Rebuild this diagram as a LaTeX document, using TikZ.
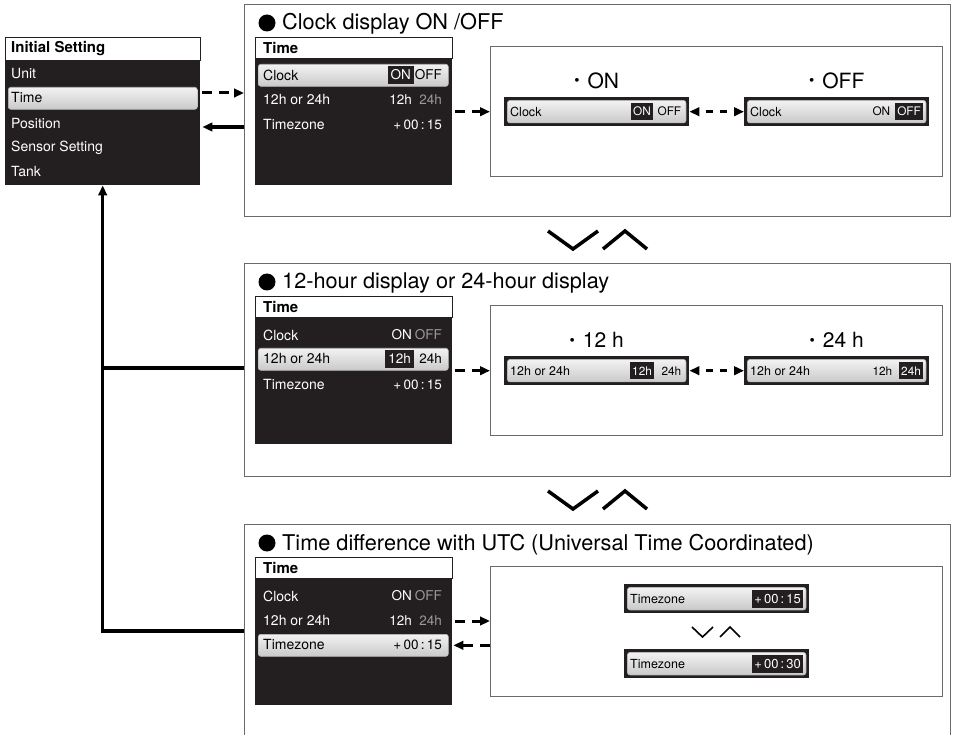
\documentclass[tikz,border=0pt]{standalone}
\usepackage{fontspec}
\setmainfont{TeX Gyre Heros}
\usetikzlibrary{arrows.meta,positioning,calc}

\definecolor{scrblack}{HTML}{231F20}
\definecolor{dimgray}{HTML}{9A9A9A}
\definecolor{framegray}{HTML}{6A6A6A}

\newcommand{\optdot}{\raisebox{2.5pt}{\fontsize{15}{15}\selectfont\textbullet}\hspace{8pt}}

\begin{document}
\begin{tikzpicture}[x=1pt, y=-1pt, >={Triangle[length=10pt,width=8.5pt]}]
  \tikzset{
    panel/.style={draw=framegray, line width=1.1pt, anchor=north west, inner sep=0pt},
    hdbox/.style={draw=scrblack, line width=1.2pt, fill=white, anchor=north west, inner sep=0pt, minimum width=197pt, minimum height=21pt},
    scrbox/.style={fill=scrblack, anchor=north west, inner sep=0pt, minimum width=197pt, minimum height=127pt},
    selrow/.style={draw=gray!55, line width=0.6pt, rounded corners=2.5pt, top color=gray!10, bottom color=gray!42, anchor=north west, inner sep=0pt, minimum width=190pt, minimum height=22pt},
    barframe/.style={fill=scrblack, anchor=north west, inner sep=0pt, minimum width=185pt, minimum height=29pt},
    barin/.style={draw=gray!55, line width=0.6pt, rounded corners=2.5pt, top color=gray!10, bottom color=gray!42, inner sep=0pt, minimum width=178.5pt, minimum height=22.5pt},
    hdtxt/.style={anchor=west, inner sep=0pt, font=\bfseries\fontsize{15}{18}\selectfont},
    item/.style={anchor=west, inner sep=0pt, text=white, font=\fontsize{14}{17}\selectfont},
    val/.style={anchor=east, inner xsep=2pt, inner ysep=0pt, minimum height=18pt, font=\fontsize{13.5}{16}\selectfont},
    baritem/.style={anchor=west, inner sep=0pt, font=\fontsize{12.5}{15}\selectfont},
    barval/.style={val, minimum height=17pt, font=\fontsize{11.8}{14}\selectfont},
    tzval/.style={val, minimum height=18pt, font=\fontsize{13}{15}\selectfont},
    valsel/.style={fill=scrblack, text=white, inner xsep=3pt},
    barsel/.style={fill=scrblack, text=white, inner xsep=2.3pt},
    ttl/.style={anchor=base west, inner sep=0pt, font=\fontsize{21.7}{26}\selectfont},
    ttldot/.style={circle, fill=black, inner sep=0pt, minimum size=17pt},
    choice/.style={inner sep=0pt, font=\fontsize{21}{25}\selectfont},
    dasharrow/.style={->, line width=3pt, dash pattern=on 10pt off 7pt},
    dbarrow/.style={<->, line width=3pt, dash pattern=on 7pt off 7pt, dash phase=7pt},
    fbline/.style={line width=3.2pt, line join=miter},
    chev/.style={line width=3.5pt, line join=miter},
    chevsm/.style={line width=1.6pt, line join=miter}
  }
  \clip (0,0) rectangle (954,735);

  % initial setting menu
  \node[hdbox, minimum width=195pt, minimum height=23pt] (menuhd) at (5,37) {};
  \node[hdtxt] (menuttl) at (11,48.5) {Initial Setting};
  \node[scrbox, minimum width=195pt, minimum height=125pt] (menu) at (5,60) {};
  \node[selrow, minimum width=189pt] (mTimeSel) at (8,87) {};
  \node[item] (mUnit) at (11,74) {Unit};
  \node[item, text=black] (mTime) at (11,98) {Time};
  \node[item] (mPos) at (11,124) {Position};
  \node[item] (mSens) at (11,148) {Sensor Setting};
  \node[item] (mTank) at (11,172) {Tank};

  % panel A: clock on/off
  \node[panel, minimum width=706pt, minimum height=212pt] (panA) at (244,4) {};
  \node[ttldot] (dotA) at (267,23) {};
  \node[ttl] (ttlA) at (282,30) {Clock display ON /OFF};
  \node[hdbox] (hdA) at (255,37) {};
  \node[hdtxt] (hdAtxt) at (263,47.5) {Time};
  \node[scrbox] (scrA) at (255,58) {};
  \node[selrow] (selA) at (258,64) {};
  \node[item, text=black] (cA1) at (263,75) {Clock};
  \node[val, valsel] (vA1a) at (414,75) {ON};
  \node[val] (vA1b) at (444,75) {OFF};
  \node[item] (cA2) at (263,100) {12h or 24h};
  \node[val, text=white] (vA2a) at (414,100) {12h};
  \node[val, text=dimgray] (vA2b) at (444,100) {24h};
  \node[item] (cA3) at (263,125) {Timezone};
  \node[val, text=white] (vA3) at (444,125) {+\,00\,:\,15};
  \node[panel, line width=1pt, minimum width=452pt, minimum height=130pt] (boxA) at (490,46) {};
  \node[barframe] (onBar) at (504,97) {};
  \node[barin] (onBarIn) at (onBar.center) {};
  \node[baritem] (onBarTxt) at ([xshift=6pt]onBar.west) {Clock};
  \node[barval, barsel] (onBarA) at ([xshift=-36pt]onBar.east) {ON};
  \node[barval] (onBarB) at ([xshift=-6pt]onBar.east) {OFF};
  \node[barframe] (offBar) at (744,97) {};
  \node[barin] (offBarIn) at (offBar.center) {};
  \node[baritem] (offBarTxt) at ([xshift=6pt]offBar.west) {Clock};
  \node[barval] (offBarA) at ([xshift=-37pt]offBar.east) {ON};
  \node[barval, barsel] (offBarB) at ([xshift=-6pt]offBar.east) {OFF};
  \node[choice, above=8pt of onBar] (lblOn) {\optdot ON};
  \node[choice, above=8pt of offBar] (lblOff) {\optdot OFF};
  \draw[dasharrow, shorten <=3pt] (scrA.east |- onBar) -- (boxA.west |- onBar);
  \draw[dbarrow] (onBar) -- (offBar);

  \draw[chev] (548,231) -- (573,249) -- (598,231);
  \draw[chev] (603,249) -- (625,231) -- (647,249);

  % panel B: 12h / 24h
  \node[panel, minimum width=706pt, minimum height=213pt] (panB) at (244,263) {};
  \node[ttldot] (dotB) at (267,282) {};
  \node[ttl] (ttlB) at (282,289) {12-hour display or 24-hour display};
  \node[hdbox] (hdB) at (255,296) {};
  \node[hdtxt] (hdBtxt) at (263,306.5) {Time};
  \node[scrbox] (scrB) at (255,317) {};
  \node[item] (cB1) at (263,335) {Clock};
  \node[val, text=white] (vB1a) at (414,335) {ON};
  \node[val, text=dimgray] (vB1b) at (444,335) {OFF};
  \node[selrow] (selB) at (258,348) {};
  \node[item, text=black] (cB2) at (263,359) {12h or 24h};
  \node[val, valsel] (vB2a) at (414,359) {12h};
  \node[val] (vB2b) at (444,359) {24h};
  \node[item] (cB3) at (263,385) {Timezone};
  \node[val, text=white] (vB3) at (444,385) {+\,00\,:\,15};
  \node[panel, line width=1pt, minimum width=452pt, minimum height=130pt] (boxB) at (490,305) {};
  \node[barframe] (h12Bar) at (504,356) {};
  \node[barin] (h12BarIn) at (h12Bar.center) {};
  \node[baritem] (h12BarTxt) at ([xshift=6pt]h12Bar.west) {12h or 24h};
  \node[barval, barsel] (h12BarA) at ([xshift=-35pt]h12Bar.east) {12h};
  \node[barval] (h12BarB) at ([xshift=-6pt]h12Bar.east) {24h};
  \node[barframe] (h24Bar) at (744,356) {};
  \node[barin] (h24BarIn) at (h24Bar.center) {};
  \node[baritem] (h24BarTxt) at ([xshift=6pt]h24Bar.west) {12h or 24h};
  \node[barval] (h24BarA) at ([xshift=-35pt]h24Bar.east) {12h};
  \node[barval, barsel] (h24BarB) at ([xshift=-6pt]h24Bar.east) {24h};
  \node[choice, above=8pt of h12Bar] (lbl12) {\optdot 12 h};
  \node[choice, above=8pt of h24Bar] (lbl24) {\optdot 24 h};
  \draw[dasharrow, shorten <=3pt] (scrB.east |- h12Bar) -- (boxB.west |- h12Bar);
  \draw[dbarrow] (h12Bar) -- (h24Bar);

  \draw[chev] (548,491) -- (573,509) -- (598,491);
  \draw[chev] (603,509) -- (625,491) -- (647,509);

  % panel C: timezone
  \node[panel, minimum width=706pt, minimum height=230pt] (panC) at (244,524) {};
  \node[ttldot] (dotC) at (267,543) {};
  \node[ttl] (ttlC) at (282,550) {Time difference with UTC (Universal Time Coordinated)};
  \node[hdbox] (hdC) at (255,557) {};
  \node[hdtxt] (hdCtxt) at (263,567.5) {Time};
  \node[scrbox] (scrC) at (255,578) {};
  \node[item] (cC1) at (263,596) {Clock};
  \node[val, text=white] (vC1a) at (414,596) {ON};
  \node[val, text=dimgray] (vC1b) at (444,596) {OFF};
  \node[item] (cC2) at (263,621) {12h or 24h};
  \node[val, text=white] (vC2a) at (414,621) {12h};
  \node[val, text=dimgray] (vC2b) at (444,621) {24h};
  \node[selrow] (selC) at (258,634) {};
  \node[item, text=black] (cC3) at (263,645) {Timezone};
  \node[val] (vC3) at (444,645) {+\,00\,:\,15};
  \node[panel, line width=1pt, minimum width=452pt, minimum height=130pt] (boxC) at (490,566) {};
  \node[barframe] (tz15Bar) at (624,584) {};
  \node[barin] (tz15BarIn) at (tz15Bar.center) {};
  \node[baritem] (tz15BarTxt) at ([xshift=6pt]tz15Bar.west) {Timezone};
  \node[tzval, barsel] (tz15BarV) at ([xshift=-6pt]tz15Bar.east) {+\,00\,:\,15};
  \node[barframe] (tz30Bar) at (624,649) {};
  \node[barin] (tz30BarIn) at (tz30Bar.center) {};
  \node[baritem] (tz30BarTxt) at ([xshift=6pt]tz30Bar.west) {Timezone};
  \node[tzval, barsel] (tz30BarV) at ([xshift=-6pt]tz30Bar.east) {+\,00\,:\,30};
  \draw[chevsm] (692,627) -- (702.5,637) -- (713,627);
  \draw[chevsm] (720,637) -- (730,627) -- (740,637);
  \draw[dasharrow, shorten <=3pt] (scrC.east |- cC2) -- (boxC.west |- cC2);
  \draw[dasharrow, shorten >=1pt] (boxC.west |- selC) -- (scrC.east |- selC);

  % menu <-> panels
  \draw[dasharrow, shorten <=2pt] (menu.east |- 0,93) -- (panA.west |- 0,93);
  \draw[fbline, ->, shorten >=2pt] (panA.west |- 0,127) -- (menu.east |- 0,127);
  \draw[fbline] (panB.west |- 0,368) -- (menu.south |- 0,368);
  \draw[fbline, ->] (panC.west |- 0,631) -| (menu.south);
\end{tikzpicture}
\end{document}
